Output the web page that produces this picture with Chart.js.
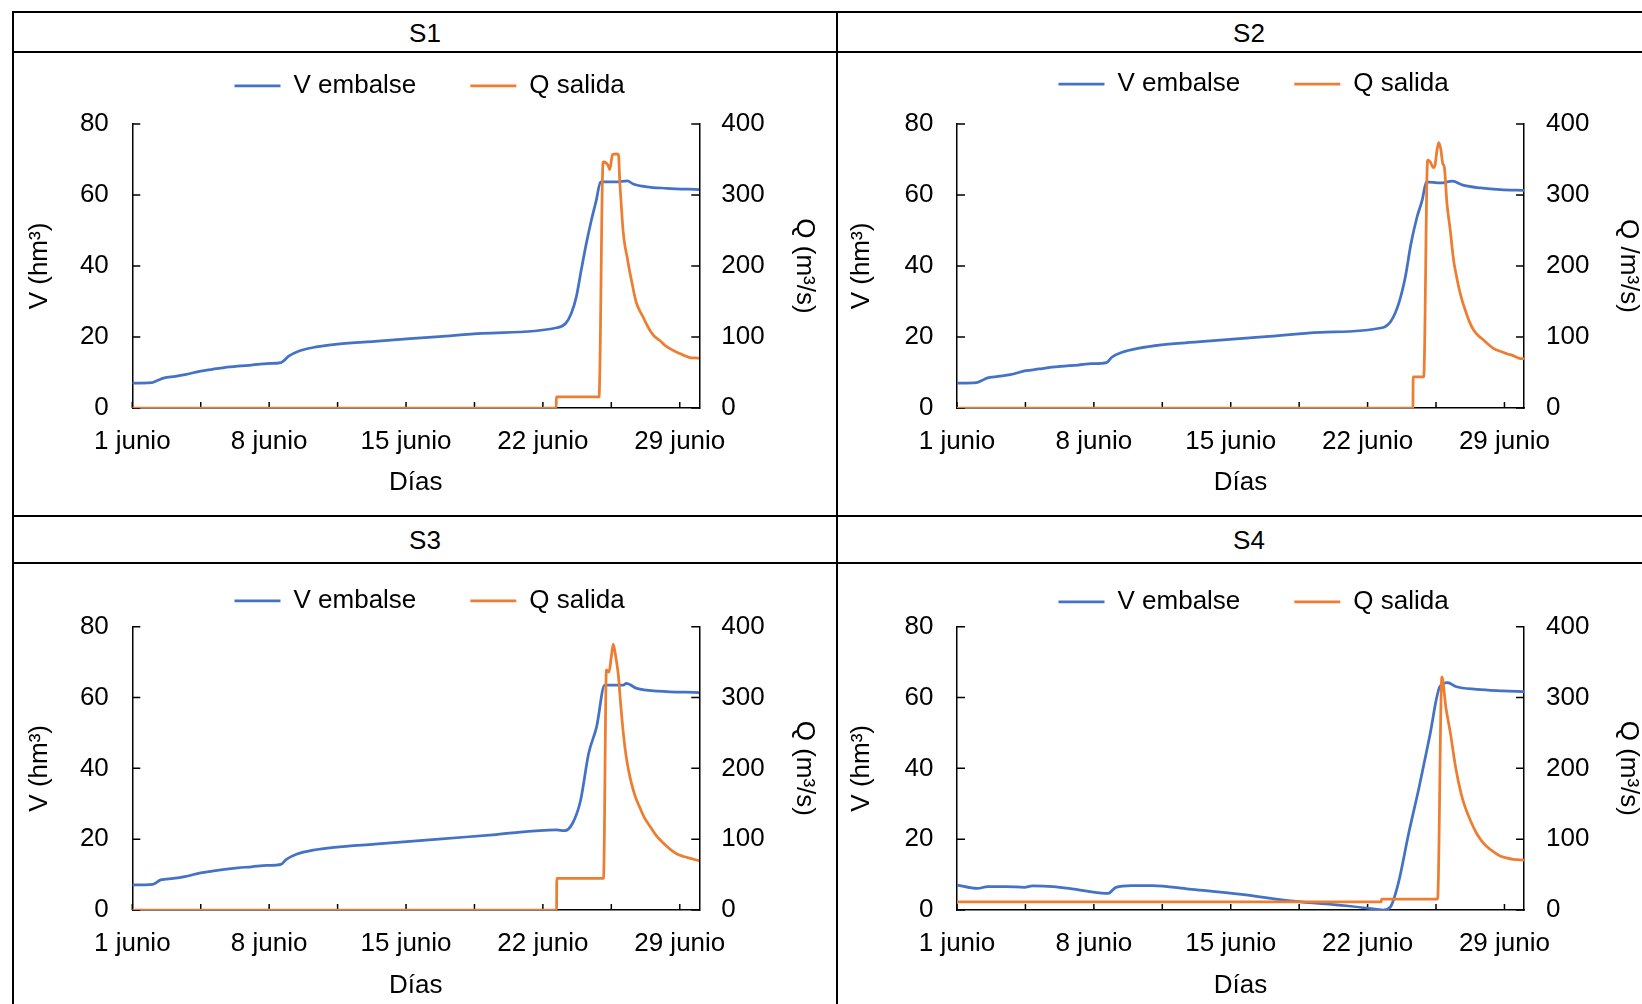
<!DOCTYPE html>
<html>
<head>
<meta charset="utf-8">
<script src="https://cdn.jsdelivr.net/npm/chart.js@4"></script>
<style>
  body { margin: 0; width: 1642px; height: 1004px; overflow: hidden; background: #fff; position: relative;
         font-family: "Liberation Sans", Arial, sans-serif; }
  .line { position: absolute; background: #000; }
  .head { position: absolute; text-align: center; font-size: 26px; color: #000; }
  .box { position: absolute; }
</style>
</head>
<body>
<!-- table grid -->
<div class="line" style="left:12px; top:11px; width:1640px; height:2px"></div>
<div class="line" style="left:12px; top:51px; width:1640px; height:2px"></div>
<div class="line" style="left:12px; top:515px; width:1640px; height:2px"></div>
<div class="line" style="left:12px; top:562px; width:1640px; height:2px"></div>
<div class="line" style="left:12px; top:11px; width:2px; height:1000px"></div>
<div class="line" style="left:836px; top:11px; width:2px; height:1000px"></div>

<div class="head" style="left:14px; top:13px; width:822px; height:38px; line-height:40px">S1</div>
<div class="head" style="left:838px; top:13px; width:822px; height:38px; line-height:40px">S2</div>
<div class="head" style="left:14px; top:517px; width:822px; height:45px; line-height:46px">S3</div>
<div class="head" style="left:838px; top:517px; width:822px; height:45px; line-height:46px">S4</div>

<div class="box" id="b1"><canvas id="c1"></canvas></div>
<div class="box" id="b2"><canvas id="c2"></canvas></div>
<div class="box" id="b3"><canvas id="c3"></canvas></div>
<div class="box" id="b4"><canvas id="c4"></canvas></div>

<script>
// days counted from 1 junio 00:00
const xTickLabels = ["1 junio", "8 junio", "15 junio", "22 junio", "29 junio"];
const seriesNames = ["V embalse", "Q salida"];

// S1
const s1VDay = [0, 1.0, 1.3, 1.6, 2.2, 2.7, 3.5, 4.1, 4.7, 5.4, 6.1, 6.9, 7.6, 7.75, 8.0, 8.5, 9.4, 10.5, 12.4, 15.7, 17.9, 21.7,
  22.16, 22.45, 22.71, 22.96, 23.22, 23.48, 23.73, 23.95, 24.77, 25.31, 25.62, 26.3, 27.33, 29];
const s1V = [7.0, 7.15, 7.8, 8.4, 8.9, 9.4, 10.4, 10.9, 11.4, 11.8, 12.1, 12.5, 12.8, 13.3, 14.6, 16.0, 17.2, 18.0, 18.8, 20.1, 21.0, 22.6,
  23.8, 26.6, 31.3, 38.8, 46.3, 52.9, 58.5, 63.7, 63.7, 64.0, 63.1, 62.3, 61.9, 61.5];
const s1QDay = [0, 21.68, 21.69, 23.87, 24.08, 24.11, 24.33, 24.42, 24.56, 24.8, 24.87, 24.93, 25.0, 25.1, 25.2, 25.31,
  25.42, 25.53, 25.66, 25.79, 25.95, 26.13, 26.3, 26.47, 26.7, 26.98, 27.25, 27.5, 27.75, 28.01, 28.25, 28.52, 28.75, 29];
const s1Q = [0, 0, 15.5, 15.5, 346.5, 346.5, 342, 335.7, 357, 358, 356, 320, 290, 250, 228, 212.7,
  195, 180, 162, 147.5, 137, 128, 118, 109.4, 101, 95, 88, 83.7, 80, 76.6, 73.5, 71, 70.5, 70];

// S2
const s2VDay = [0, 0.99, 1.3, 1.52, 2.1, 2.72, 3.52, 4.2, 4.85, 5.5, 6.19, 6.9, 7.65, 7.92, 8.45, 9.25, 10.45, 12.3, 15.8, 18.58, 21.74,
  22.2, 22.59, 22.93, 23.22, 23.53, 23.79, 24.01, 24.73, 25.33, 25.92, 26.77, 27.8, 29];
const s2V = [7.0, 7.15, 7.8, 8.4, 8.9, 9.4, 10.5, 11.0, 11.5, 11.8, 12.1, 12.5, 12.8, 14.3, 15.7, 16.8, 17.8, 18.6, 20.1, 21.3, 22.6,
  24.5, 29.4, 36.9, 46.3, 53.8, 58.5, 63.7, 63.4, 63.9, 62.7, 62.0, 61.5, 61.3];
const s2QDay = [0, 23.32, 23.33, 23.87, 24.07, 24.2, 24.37, 24.45, 24.55, 24.64, 24.74, 24.85, 24.92, 25.06, 25.23,
  25.4, 25.53, 25.66, 25.83, 26.0, 26.2, 26.43, 26.7, 26.94, 27.2, 27.45, 27.88, 28.15, 28.4, 28.83, 29];
const s2Q = [0, 0, 43.7, 43.7, 349, 346.7, 338.6, 342, 363, 373.8, 365, 344, 340, 288, 250,
  208, 188, 170.4, 152, 137.6, 122, 109.4, 101, 95.4, 89, 83.7, 78.9, 76, 74.2, 69.6, 69.5];

// S3
const s3VDay = [0, 1.04, 1.45, 2.1, 2.68, 3.5, 4.1, 4.73, 5.4, 6.1, 6.9, 7.6, 7.88, 8.43, 9.25, 10.34, 12.4, 15.68, 18.6, 21.7, 22.11,
  22.52, 22.93, 23.34, 23.75, 24.16, 25.12, 25.26, 25.8, 26.9, 29];
const s3V = [7.06, 7.25, 8.5, 8.9, 9.4, 10.5, 11.0, 11.5, 11.9, 12.2, 12.6, 12.9, 14.3, 15.8, 16.9, 17.7, 18.6, 20.0, 21.3, 22.6, 22.4,
  24.5, 31.0, 44.2, 51.8, 63.5, 63.5, 64.0, 62.6, 61.8, 61.4];
const s3QDay = [0, 21.7, 21.71, 24.1, 24.25, 24.38, 24.5, 24.6, 24.7, 24.85, 24.99, 25.12, 25.26, 25.4, 25.53, 25.73, 25.94,
  26.2, 26.49, 26.8, 27.17, 27.5, 27.86, 28.2, 28.54, 29];
const s3Q = [0, 0, 44.7, 44.7, 339, 336, 357.6, 375.5, 362, 334, 287, 248, 216.5, 195, 178.8, 160, 145.9,
  130, 117.6, 105, 94.1, 86, 79, 75.5, 72.9, 69.5];

// S4
const s4VDay = [0, 1.04, 1.58, 2.5, 3.45, 3.85, 4.92, 5.99, 7.59, 7.73, 8.13, 8.93, 10.0, 11.87, 14.55, 17.2, 19.9,
  21.5, 21.8, 22.17, 22.57, 23.1, 23.64, 24.17, 24.7, 25.1, 25.5, 26.58, 27.91, 29];
const s4V = [7.06, 6.1, 6.6, 6.6, 6.4, 6.8, 6.6, 5.9, 4.7, 4.7, 6.4, 6.9, 6.9, 5.9, 4.4, 2.5, 1.2,
  0.2, 0, 0.9, 7.5, 21.6, 34.8, 48.9, 63.1, 64.2, 63.1, 62.3, 61.9, 61.7];
const s4QDay = [0, 21.7, 21.71, 24.58, 24.8, 25.0, 25.24, 25.5, 25.78, 25.98, 26.18, 26.38, 26.58, 26.85, 27.11, 27.45,
  27.78, 28.1, 28.45, 29];
const s4Q = [11.5, 11.5, 15.5, 15.5, 329, 287, 249, 202, 164.7, 146, 131.8, 119, 108, 97, 89.4, 82,
  76.2, 73.5, 71.5, 70.5];

const FONT = 26;
const HALF_LINE = FONT * 1.2 / 2;
const LEG_PAD = 54;

Chart.defaults.font.family = '"Liberation Sans", Arial, sans-serif';
Chart.defaults.font.size = FONT;
Chart.defaults.color = '#000';

// Excel-like tick marks pointing into the plot
const innerTicks = {
  id: 'innerTicks',
  beforeDatasetsDraw(chart) {
    const { ctx, chartArea: a, scales } = chart;
    ctx.save();
    ctx.strokeStyle = '#000';
    ctx.lineWidth = 1.5;
    ctx.beginPath();
    scales.x.ticks.forEach(t => {
      const px = scales.x.getPixelForValue(t.value);
      ctx.moveTo(px, a.bottom);
      ctx.lineTo(px, a.bottom - 6);
    });
    scales.y.ticks.forEach(t => {
      const py = scales.y.getPixelForValue(t.value);
      ctx.moveTo(a.left, py);
      ctx.lineTo(a.left + 8, py);
    });
    scales.y1.ticks.forEach(t => {
      const py = scales.y1.getPixelForValue(t.value);
      ctx.moveTo(a.right, py);
      ctx.lineTo(a.right - 8, py);
    });
    ctx.stroke();
    ctx.restore();
  }
};

// extra room under the legend
const legendGap = {
  id: 'legendGap',
  beforeLayout(chart) {
    const legend = chart.legend;
    if (!legend || legend._gapPatched) return;
    const fit = legend.fit;
    legend.fit = function () {
      fit.call(this);
      this.height += chart.options.plugins.legendGap.extra;
    };
    legend._gapPatched = true;
  }
};

function toPoints(days, vals) {
  return days.map((d, i) => ({ x: d, y: vals[i] }));
}

function makePanel(p) {
  const box = document.getElementById(p.box);
  box.style.left = p.cx + 'px';
  box.style.top = p.cy + 'px';
  box.style.width = p.cw + 'px';
  box.style.height = p.ch + 'px';

  // work out paddings so the plot area lands where it is in the figure
  const legL = p.yTitleX - HALF_LINE;
  const legR = 2 * p.legendX - legL;
  const leftWidth = p.plot.l - legL;
  const rightWidth = legR - p.plot.r;
  const xHeight = p.xTitleY + HALF_LINE - p.plot.b;

  new Chart(document.getElementById(p.canvas), {
    type: 'line',
    data: {
      datasets: [
        {
          label: seriesNames[0],
          data: toPoints(p.vDay, p.v),
          borderColor: '#4472C4',
          backgroundColor: '#4472C4',
          borderWidth: 2.75,
          pointRadius: 0,
          cubicInterpolationMode: 'monotone',
          yAxisID: 'y',
          order: 2,
        },
        {
          label: seriesNames[1],
          data: toPoints(p.qDay, p.q),
          borderColor: '#ED7D31',
          backgroundColor: '#ED7D31',
          borderWidth: 2.75,
          pointRadius: 0,
          cubicInterpolationMode: 'monotone',
          yAxisID: 'y1',
          order: 1,
        },
      ],
    },
    options: {
      responsive: true,
      maintainAspectRatio: false,
      animation: false,
      events: [],
      layout: {
        autoPadding: false,
        padding: {
          left: legL - p.cx,
          right: p.cx + p.cw - legR,
          top: p.legendY - FONT / 2 - LEG_PAD - p.cy,
          bottom: p.cy + p.ch - (p.xTitleY + HALF_LINE),
        },
      },
      scales: {
        x: {
          type: 'linear',
          min: 0,
          max: 29,
          afterFit: s => { s.height = xHeight; },
          grid: { drawOnChartArea: false, drawTicks: false },
          border: { display: true, color: '#000', width: 1.5 },
          ticks: {
            stepSize: 3.5,
            includeBounds: false,
            autoSkip: false,
            maxRotation: 0,
            padding: 18.5,
            callback: v => (v % 7 === 0 ? xTickLabels[v / 7] : ''),
          },
          title: { display: true, text: 'Días', padding: { top: 0, bottom: 0 } },
        },
        y: {
          position: 'left',
          min: 0,
          max: 80,
          afterFit: s => { s.width = leftWidth; },
          grid: { drawOnChartArea: false, drawTicks: false },
          border: { display: true, color: '#000', width: 1.5 },
          ticks: { stepSize: 20, padding: 23.5 },
          title: { display: true, text: 'V (hm³)', padding: { top: 0, bottom: 0 } },
        },
        y1: {
          position: 'right',
          min: 0,
          max: 400,
          afterFit: s => { s.width = rightWidth; },
          grid: { drawOnChartArea: false, drawTicks: false },
          border: { display: true, color: '#000', width: 1.5 },
          ticks: { stepSize: 100, padding: 22 },
          title: { display: true, text: p.qTitle, padding: { top: legR - HALF_LINE - p.y1TitleX, bottom: 0 } },
        },
      },
      plugins: {
        legendGap: { extra: p.plot.t - p.legendY - FONT / 2 - 10 },
        tooltip: { enabled: false },
        legend: {
          position: 'top',
          labels: {
            usePointStyle: true,
            pointStyle: 'line',
            pointStyleWidth: 46,
            padding: LEG_PAD,
            color: '#000',
            font: { size: FONT },
            sort: (a, b) => a.datasetIndex - b.datasetIndex,
          },
        },
      },
    },
    plugins: [innerTicks, legendGap],
  });
}

makePanel({
  box: 'b1', canvas: 'c1', cx: 20, cy: 14, cw: 820, ch: 486,
  plot: { l: 132.3, r: 699.3, t: 124, b: 408 },
  legendX: 429.6, legendY: 85.8, yTitleX: 39.4, y1TitleX: 804, xTitleY: 482.5,
  qTitle: 'Q (m³/s)', vDay: s1VDay, v: s1V, qDay: s1QDay, q: s1Q,
});
makePanel({
  box: 'b2', canvas: 'c2', cx: 844, cy: 14, cw: 820, ch: 486,
  plot: { l: 957, r: 1524, t: 124, b: 408 },
  legendX: 1253.6, legendY: 84.2, yTitleX: 862, y1TitleX: 1628, xTitleY: 482.5,
  qTitle: 'Q /m³/s)', vDay: s2VDay, v: s2V, qDay: s2QDay, q: s2Q,
});
makePanel({
  box: 'b3', canvas: 'c3', cx: 20, cy: 529, cw: 820, ch: 475,
  plot: { l: 132.3, r: 699.3, t: 626.7, b: 910 },
  legendX: 429.6, legendY: 600.8, yTitleX: 39.4, y1TitleX: 804, xTitleY: 985.5,
  qTitle: 'Q (m³/s)', vDay: s3VDay, v: s3V, qDay: s3QDay, q: s3Q,
});
makePanel({
  box: 'b4', canvas: 'c4', cx: 844, cy: 529, cw: 820, ch: 475,
  plot: { l: 957, r: 1524, t: 626.7, b: 910 },
  legendX: 1253.6, legendY: 601.8, yTitleX: 862, y1TitleX: 1628, xTitleY: 986,
  qTitle: 'Q (m³/s)', vDay: s4VDay, v: s4V, qDay: s4QDay, q: s4Q,
});
</script>
</body>
</html>
